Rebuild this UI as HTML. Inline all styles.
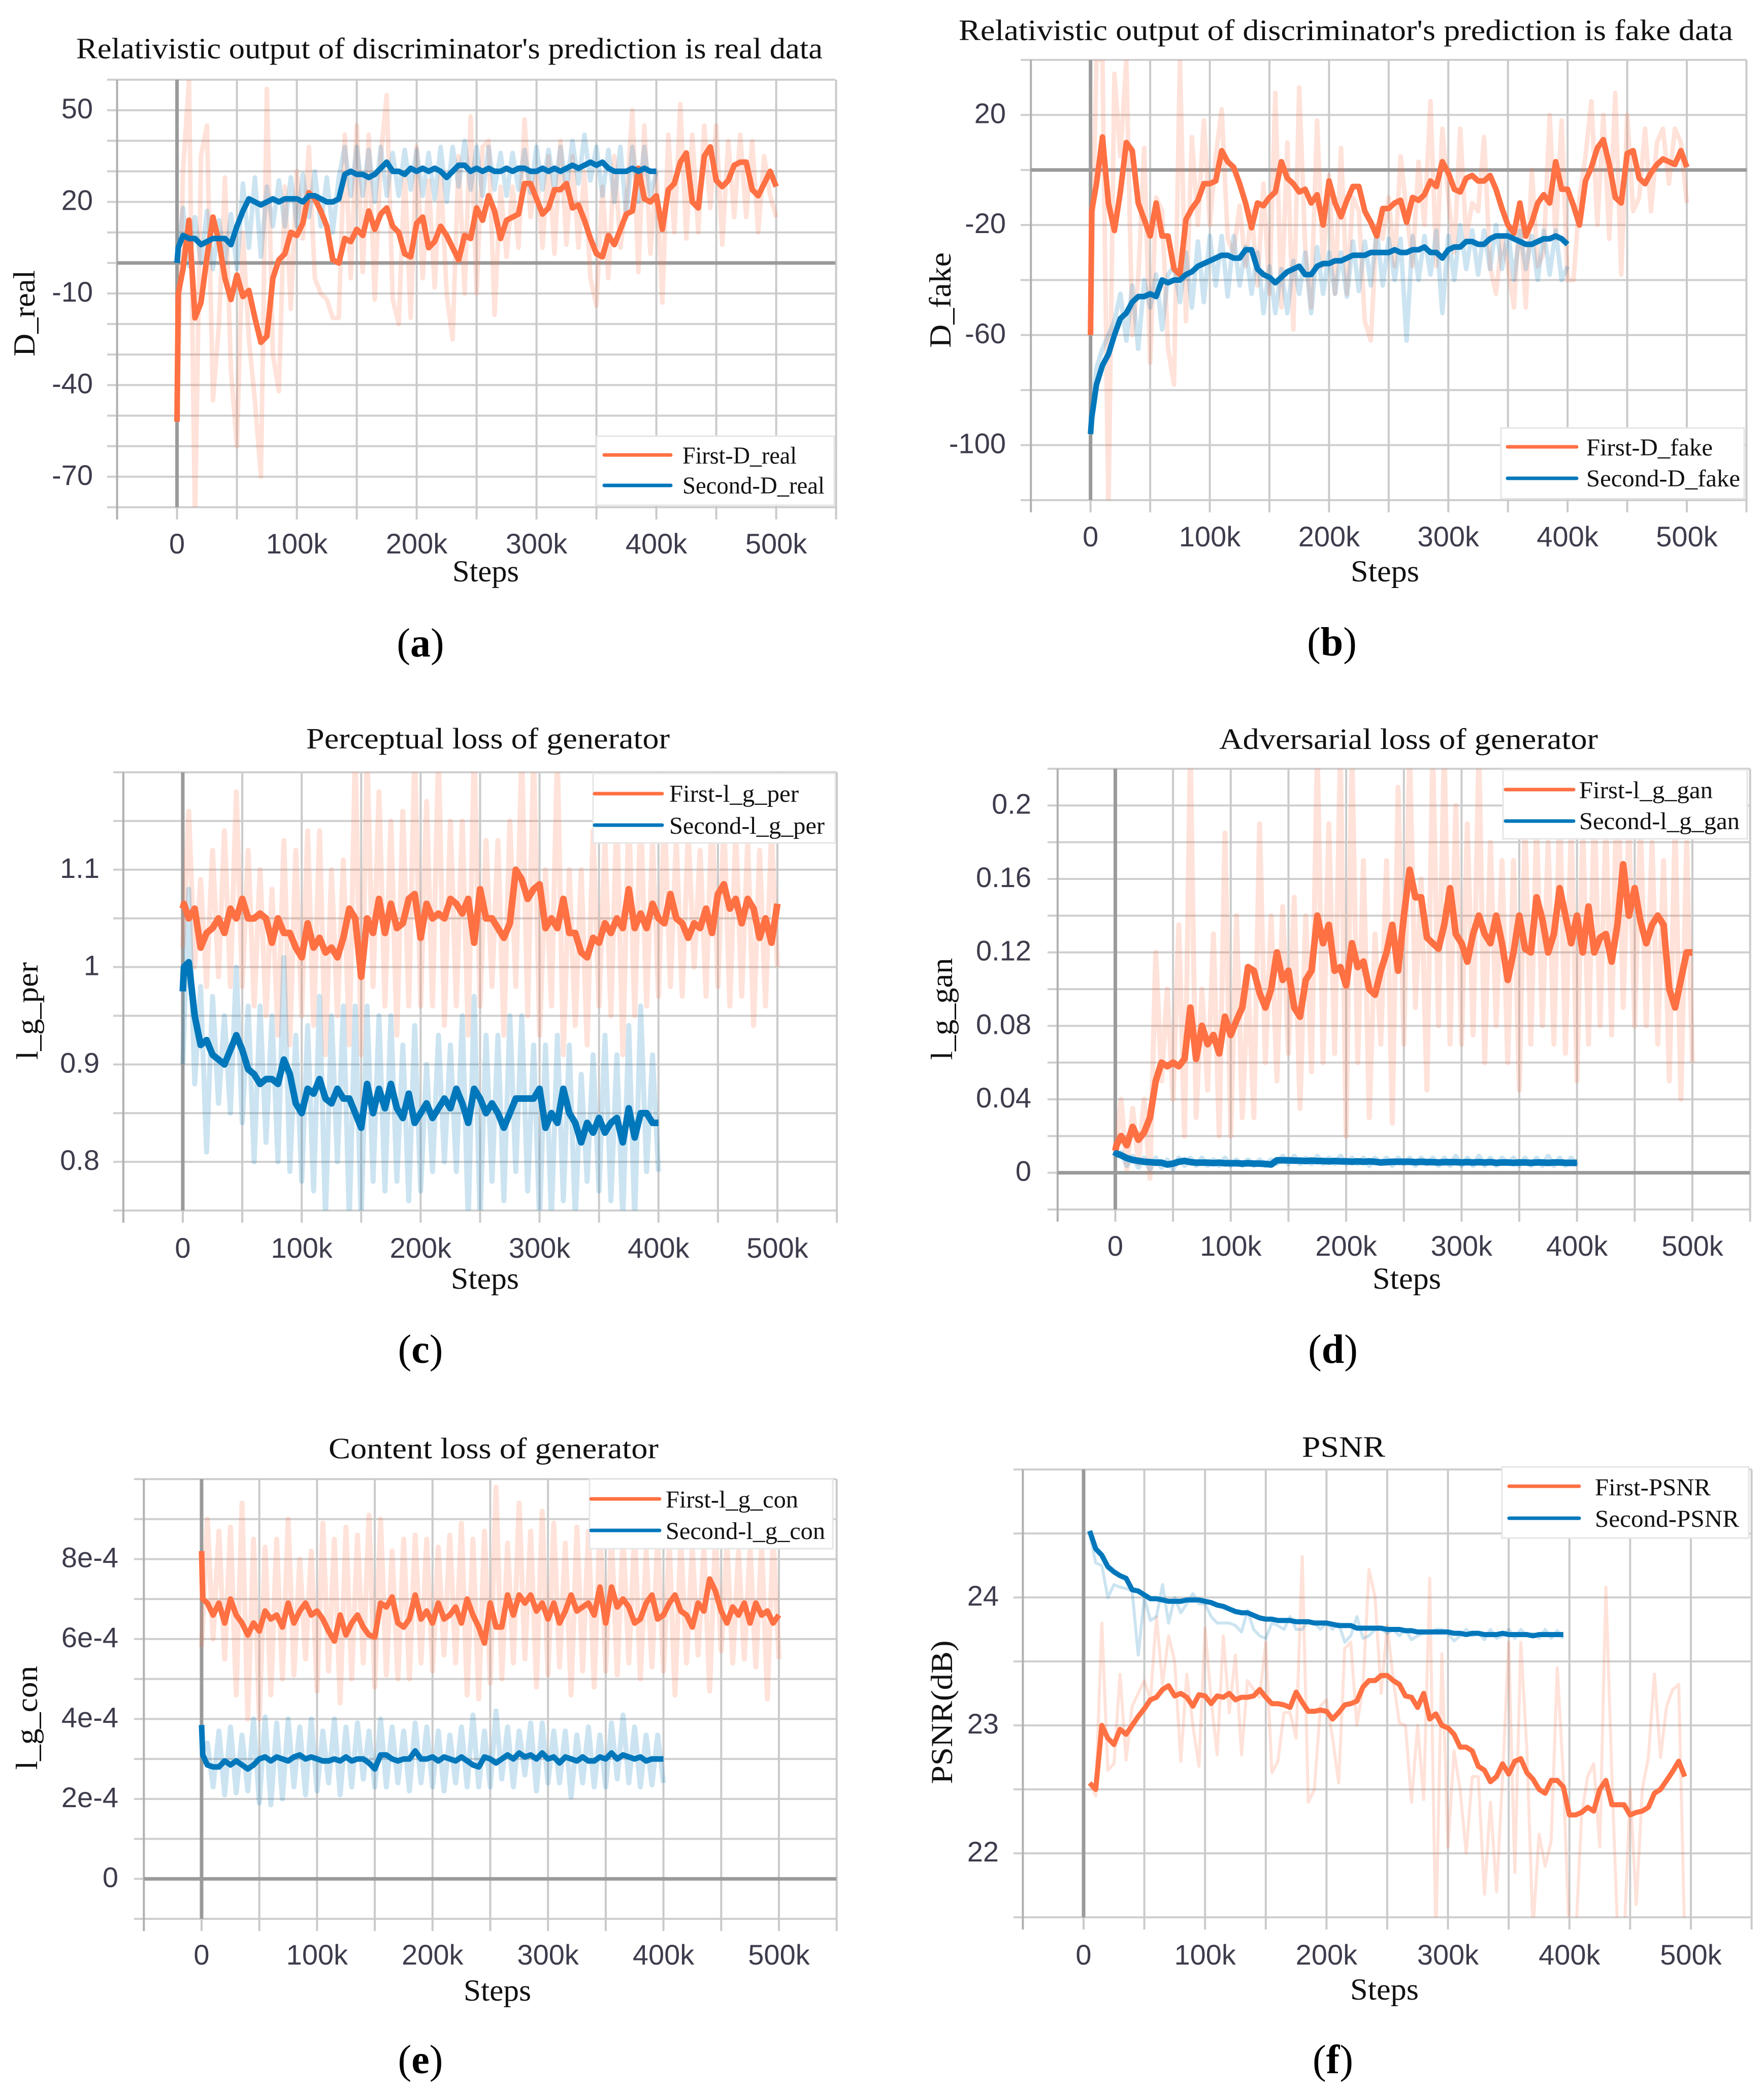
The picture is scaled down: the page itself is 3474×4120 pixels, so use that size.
<!DOCTYPE html>
<html lang="en">
<head>
<meta charset="utf-8">
<title>Training curves of the first and second stage models</title>
<style>
html,body{margin:0;padding:0;background:#fff}
svg{display:block}
</style>
</head>
<body>
<svg id="figure" xmlns="http://www.w3.org/2000/svg" width="3474" height="4120" viewBox="0 0 3474 4120"></svg>
<script>
const xTickLabels = ['0','100k','200k','300k','400k','500k'];
const xTickSteps = [0,100,200,300,400,500];

const aYTicks = [50,20,-10,-40,-70];
const aFirst = [-52,-10,
-2,14,-18,-13,2,15,7,-5,-12,-4,
-11,-9,-18,-26,-24,-5,1,3,10,9,
13,23,21,17,12,1,0,8,7,11,
9,17,11,16,18,12,10,3,2,13,
15,5,7,12,9,5,1,9,8,18,
14,22,17,8,14,15,16,26,26,21,
16,18,24,24,26,18,19,14,8,3,
2,9,6,11,16,17,31,21,20,22,
11,24,26,33,36,20,18,35,38,27,
25,27,32,33,33,24,22,26,30,25];
const aSecond = [0,5,
9,8,8,6,7,8,8,8,6,12,
17,21,20,19,20,21,20,21,21,21,
20,22,22,21,20,20,21,29,30,29,
29,28,29,31,33,30,30,29,31,30,
31,30,31,30,28,30,32,32,30,31,
30,31,30,30,31,30,31,31,30,30,
31,30,31,30,31,32,31,32,33,32,
33,31,30,30,30,31,30,31,30,30];
const aFirstRaw = [-52,
30,60,-85,35,45,-45,-20,28,-35,-60,
10,-25,-45,-70,57,-30,-42,25,-15,30,
8,38,-5,-10,-12,-18,-18,42,-5,45,
-3,42,-12,35,55,-12,-20,30,-18,38,
-5,27,-8,30,-10,-25,35,-10,48,-10,
38,40,-17,25,2,25,5,47,15,30,
5,35,3,40,6,35,5,30,-5,-14,
25,-5,35,5,20,50,-3,45,3,30,
-13,42,10,52,8,42,10,45,18,45,
6,40,15,42,15,40,10,35,22,15];
const aSecondRaw = [0,
18,-1,15,0,17,-2,14,0,16,-2,
26,5,28,2,25,12,27,12,28,12,
29,15,30,12,28,10,28,38,22,38,
22,37,20,38,22,36,22,37,24,37,
22,36,21,38,20,38,25,40,24,38,
22,38,24,36,22,36,24,37,23,38,
24,37,24,38,24,40,26,42,27,38,
22,37,20,38,15,38,20,38,22,30];

const bYTicks = [20,-20,-60,-100];
const bFirst = [-60,-15,
-5,12,-12,-22,-8,10,7,-12,-18,-24,
-12,-24,-24,-36,-38,-18,-14,-11,-5,-5,
-4,7,3,1,-5,-12,-21,-12,-13,-10,
-8,3,-3,-5,-8,-7,-12,-9,-20,-4,
-12,-17,-11,-6,-6,-15,-19,-24,-14,-14,
-12,-11,-19,-10,-11,-9,-4,-6,3,-1,
-7,-8,-3,-2,-4,-4,-2,-7,-14,-20,
-23,-12,-24,-19,-12,-9,-12,3,-7,-7,
-13,-20,-4,1,8,11,2,-10,-12,6,
7,-3,-5,-1,2,4,3,2,7,1];
const bSecond = [-96,-90,
-78,-71,-67,-60,-54,-52,-48,-46,-46,-45,
-46,-40,-41,-40,-40,-38,-37,-35,-34,-33,
-32,-31,-31,-32,-32,-29,-29,-36,-38,-39,
-41,-39,-37,-36,-35,-38,-38,-35,-34,-34,
-33,-33,-32,-31,-31,-31,-30,-30,-30,-30,
-29,-30,-30,-29,-29,-28,-30,-30,-32,-29,
-28,-28,-26,-26,-27,-27,-25,-24,-24,-24,
-25,-26,-27,-27,-26,-25,-25,-24,-25,-27];
const bFirstRaw = [-60,
40,40,-125,35,5,40,-60,-40,8,-70,
-10,-15,-65,-78,40,-55,12,-20,18,-20,
5,22,-25,-30,-13,-35,-15,-42,-5,-45,
28,-50,10,-58,30,-28,-50,18,-35,-2,
-45,8,-45,-10,-15,-55,-62,-20,-25,-10,
-35,5,-15,-35,3,-20,25,-35,15,-10,
-30,15,-25,-12,-15,12,-35,-45,-25,-35,
-50,-15,-50,0,-35,-30,20,-25,18,-40,
-40,-10,5,25,-20,20,-25,28,-38,20,
-15,-10,15,-15,10,15,-5,15,10,-12];
const bSecondRaw = [-96,
-72,-65,-60,-55,-45,-62,-42,-65,-40,-50,
-38,-58,-38,-35,-48,-30,-50,-26,-48,-24,
-42,-24,-46,-24,-42,-28,-45,-30,-52,-35,
-52,-36,-52,-33,-45,-30,-52,-28,-45,-30,
-45,-30,-46,-26,-44,-26,-42,-22,-42,-25,
-40,-25,-62,-24,-40,-24,-38,-22,-52,-24,
-40,-20,-36,-22,-38,-22,-36,-20,-36,-22,
-40,-22,-36,-24,-40,-22,-38,-22,-40,-35];

const cYTicks = [1.1,1,0.9,0.8];
const cFirst = [1.06,1.065,
1.05,1.06,1.02,1.035,1.04,1.05,1.035,1.06,1.05,1.07,
1.05,1.05,1.055,1.05,1.025,1.05,1.035,1.035,1.02,1.01,
1.045,1.02,1.03,1.015,1.02,1.01,1.03,1.06,1.05,0.99,
1.05,1.035,1.07,1.035,1.065,1.04,1.045,1.07,1.075,1.03,
1.065,1.05,1.055,1.05,1.07,1.065,1.055,1.07,1.025,1.08,
1.05,1.05,1.04,1.03,1.045,1.1,1.09,1.07,1.08,1.085,
1.04,1.05,1.04,1.07,1.035,1.035,1.015,1.01,1.03,1.025,
1.045,1.035,1.05,1.04,1.08,1.04,1.055,1.04,1.065,1.05,
1.045,1.075,1.05,1.045,1.03,1.045,1.04,1.06,1.035,1.075,
1.085,1.06,1.07,1.045,1.07,1.06,1.03,1.05,1.025,1.065];
const cSecond = [0.975,1.0,
1.005,0.95,0.92,0.925,0.91,0.905,0.9,0.915,0.93,0.915,
0.895,0.89,0.88,0.885,0.885,0.88,0.905,0.89,0.86,0.85,
0.875,0.87,0.885,0.865,0.86,0.875,0.865,0.865,0.85,0.835,
0.88,0.85,0.875,0.855,0.88,0.855,0.845,0.87,0.84,0.85,
0.86,0.845,0.855,0.865,0.855,0.875,0.86,0.84,0.875,0.865,
0.85,0.86,0.85,0.835,0.85,0.865,0.865,0.865,0.865,0.875,
0.835,0.85,0.84,0.875,0.85,0.84,0.82,0.84,0.83,0.845,
0.83,0.84,0.845,0.82,0.855,0.825,0.85,0.85,0.84,0.84];
const cFirstRaw = [1.02,
1.16,1.0,1.09,0.98,1.12,0.99,1.14,0.98,1.18,0.98,
1.12,0.96,1.1,0.95,1.08,0.93,1.13,0.92,1.12,0.95,
1.14,0.94,1.14,0.91,1.1,0.95,1.11,0.92,1.22,0.91,
1.22,0.98,1.18,0.96,1.15,0.93,1.16,0.96,1.22,0.96,
1.17,0.96,1.22,0.94,1.15,0.96,1.15,0.93,1.22,0.96,
1.13,0.98,1.13,0.93,1.15,0.98,1.22,0.95,1.22,0.93,
1.1,0.96,1.22,0.91,1.1,0.94,1.1,0.92,1.14,0.96,
1.13,0.95,1.16,0.91,1.16,0.95,1.16,0.96,1.13,0.97,
1.16,0.98,1.13,0.97,1.14,1.0,1.12,0.97,1.16,0.98,
1.15,0.96,1.14,0.97,1.13,0.94,1.12,0.96,1.14,1.0];
const cSecondRaw = [0.9,
1.08,0.88,0.98,0.81,0.97,0.86,0.95,0.85,1.0,0.84,
0.96,0.8,0.96,0.82,0.95,0.8,1.01,0.79,0.93,0.78,
0.94,0.77,0.97,0.74,0.95,0.8,0.96,0.74,0.96,0.74,
0.96,0.78,0.95,0.77,0.95,0.78,0.92,0.76,0.94,0.77,
0.9,0.79,0.93,0.8,0.92,0.79,0.95,0.74,0.97,0.74,
0.93,0.78,0.93,0.76,0.95,0.79,0.95,0.77,0.92,0.74,
0.92,0.74,0.93,0.76,0.92,0.74,0.89,0.78,0.91,0.77,
0.93,0.76,0.91,0.74,0.94,0.74,0.96,0.79,0.91,0.79];

const dYTicks = [0.2,0.16,0.12,0.08,0.04,0];
const dFirst = [0.012,0.015,
0.02,0.015,0.025,0.018,0.022,0.03,0.05,0.06,0.058,0.06,
0.058,0.062,0.09,0.062,0.08,0.07,0.075,0.065,0.085,0.075,
0.083,0.09,0.112,0.11,0.098,0.09,0.1,0.12,0.105,0.11,
0.09,0.085,0.105,0.11,0.14,0.125,0.135,0.11,0.112,0.102,
0.125,0.112,0.115,0.1,0.097,0.11,0.12,0.135,0.11,0.14,
0.165,0.15,0.15,0.128,0.125,0.122,0.135,0.155,0.13,0.125,
0.115,0.13,0.14,0.13,0.125,0.14,0.125,0.105,0.12,0.14,
0.122,0.12,0.15,0.138,0.12,0.13,0.155,0.14,0.125,0.14,
0.12,0.145,0.12,0.128,0.13,0.115,0.135,0.168,0.14,0.155,
0.137,0.125,0.135,0.14,0.135,0.1,0.09,0.105,0.12,0.12];
const dSecond = [0.009,0.0105,
0.0095,0.008,0.007,0.0065,0.006,0.0058,0.0055,0.0055,0.0045,0.005,
0.006,0.0065,0.0058,0.0055,0.0055,0.0055,0.0053,0.0055,0.0052,0.0052,
0.0052,0.005,0.0052,0.005,0.005,0.0048,0.0045,0.0068,0.0068,0.0068,
0.0066,0.0066,0.0064,0.0066,0.0064,0.0064,0.0062,0.0064,0.0062,0.0062,
0.006,0.0062,0.006,0.0062,0.006,0.0056,0.0058,0.006,0.006,0.006,
0.006,0.0058,0.006,0.0058,0.0058,0.0056,0.0058,0.0058,0.0058,0.0056,
0.0058,0.0056,0.0058,0.0056,0.0058,0.0054,0.0056,0.0056,0.0054,0.0056,
0.0056,0.0054,0.0056,0.0056,0.0054,0.0056,0.0056,0.0054,0.0054,0.0054];
const dFirstRaw = [0.01,
0.04,0.002,0.035,0.005,0.04,-0.003,0.12,0.05,0.1,0.04,
0.135,0.02,0.23,0.03,0.1,0.045,0.13,0.02,0.185,0.02,
0.14,0.03,0.105,0.03,0.19,0.06,0.14,0.05,0.145,0.065,
0.15,0.035,0.14,0.055,0.23,0.06,0.19,0.065,0.23,0.02,
0.23,0.06,0.17,0.03,0.13,0.07,0.17,0.027,0.21,0.07,
0.23,0.09,0.16,0.045,0.23,0.08,0.23,0.07,0.2,0.07,
0.19,0.075,0.23,0.06,0.18,0.08,0.17,0.06,0.17,0.045,
0.19,0.07,0.19,0.08,0.18,0.07,0.2,0.065,0.19,0.05,
0.19,0.07,0.2,0.08,0.19,0.075,0.23,0.09,0.19,0.08,
0.19,0.08,0.18,0.07,0.17,0.05,0.19,0.04,0.18,0.06];
const dSecondRaw = [0.009,
0.011,0.004,0.009,0.003,0.008,0.002,0.008,0.003,0.007,0.002,
0.008,0.004,0.008,0.004,0.008,0.004,0.007,0.004,0.008,0.004,
0.007,0.004,0.007,0.004,0.007,0.004,0.007,0.005,0.009,0.005,
0.009,0.005,0.008,0.005,0.009,0.005,0.008,0.005,0.009,0.005,
0.008,0.005,0.008,0.004,0.008,0.005,0.008,0.004,0.008,0.005,
0.008,0.004,0.008,0.005,0.008,0.004,0.008,0.004,0.009,0.004,
0.008,0.004,0.009,0.004,0.008,0.004,0.008,0.005,0.008,0.004,
0.008,0.004,0.008,0.004,0.009,0.004,0.008,0.004,0.008,0.004];

const eYTickValues = [8,6,4,2,0];
const eYTickLabels = ['8e-4','6e-4','4e-4','2e-4','0'];
const eFirst = [8.2,7,
6.9,6.6,6.9,6.4,7,6.6,6.4,6.1,6.4,6.2,
6.7,6.5,6.6,6.3,6.9,6.4,6.7,6.9,6.6,6.7,
6.5,6.2,5.95,6.6,6.1,6.4,6.6,6.3,6.1,6.05,
6.9,6.8,7.05,6.4,6.3,6.5,7.1,6.5,6.7,6.4,
6.9,6.5,6.6,6.8,6.4,7,6.6,6.3,5.9,6.9,
6.3,6.3,7.1,6.6,7.1,6.9,7.1,6.7,6.9,6.5,
6.9,6.4,6.7,7.1,6.7,6.8,6.9,6.6,7.3,6.4,
7.3,6.8,7,6.8,6.4,6.5,6.9,7.1,6.5,6.6,
6.9,7.1,6.7,6.6,6.3,6.9,6.7,7.5,7.2,6.7,
6.4,6.8,6.6,6.9,6.4,6.9,6.6,6.7,6.4,6.6];
const eSecond = [3.85,3.1,
2.85,2.8,2.8,2.95,2.85,2.95,2.85,2.75,2.85,3,
3.05,2.95,3.05,3,2.95,3.05,3.1,3,3.05,3,
2.95,2.95,3,2.95,3.05,2.95,3,3,2.9,2.75,
3.1,3.1,3,2.95,3,3,3.2,3,3,3.05,
2.95,3.05,3,2.95,3.05,2.95,2.85,2.8,3.05,3,
2.9,3,3.1,3,3.15,3.05,3.1,3,3.15,3,
3.05,2.9,3.05,3,2.95,3.05,2.95,2.95,3.05,3,
3.15,3,3.1,3.05,3,3.05,2.95,3,3,3];
const eFirstRaw = [5.8,
9,6,8.7,5.5,8.8,4.6,9.4,4,8.5,4,
8.3,4.6,8.5,5,9,5.1,8,5.5,8.2,4.7,
8.9,5.2,8.5,4.4,8.8,5,8.6,5.4,9.1,4.8,
9,5.1,8.2,5,8.5,5,8.6,5.4,8.5,5.2,
8.3,5.6,8.6,5.4,8.9,4.6,8.5,4.5,8.7,4.9,
9.8,5,8.4,5.4,9.4,5.5,8.7,4.8,9.2,5.1,
8.9,5.3,8.4,4.6,8.8,5.2,8.7,4.8,8.9,5.2,
8.6,5.1,8.6,5.4,8.7,5,8.2,5.3,8.5,5.2,
8.4,4.6,8.5,5.4,8.3,5.6,8.3,4.7,8.6,5.7,
8.4,5.4,8.2,5.5,8.3,5.3,8.4,4.5,8.6,5.5];
const eSecondRaw = [3.2,
3.4,2.3,3.7,2.1,3.8,2.15,3.6,2.2,4,1.9,
4.05,1.85,3.9,2,4,2.3,3.8,2.1,4,2.2,
3.7,2.4,4,2.1,3.8,2.3,3.9,2.5,3.7,2.3,
4,2.3,3.8,2.4,3.7,2.2,3.9,2.4,3.8,2.3,
3.7,2.2,3.6,2.4,3.8,2.3,4.1,2.3,3.7,2.3,
4.2,2.5,3.8,2.3,3.7,2.6,3.9,2.2,3.9,2.4,
3.7,2.4,3.7,2.05,3.6,2.4,3.8,2.3,3.6,2.3,
3.9,2.5,4.1,2.4,3.8,2.3,3.6,2.35,3.6,2.4];

const fYTicks = [24,23,22];
const fFirst = [22.55,22.5,23.0,22.9,22.85,22.97,22.93,23,23.07,23.13,
23.2,23.22,23.28,23.31,23.23,23.25,23.22,23.15,23.24,23.23,
23.17,23.23,23.22,23.25,23.2,23.22,23.22,23.23,23.28,23.22,
23.17,23.17,23.16,23.14,23.26,23.18,23.11,23.11,23.12,23.11,
23.05,23.1,23.16,23.17,23.19,23.3,23.35,23.35,23.39,23.39,
23.35,23.32,23.23,23.22,23.14,23.25,23.05,23.09,23,22.98,
22.93,22.83,22.83,22.8,22.68,22.65,22.56,22.6,22.7,22.62,
22.72,22.74,22.63,22.58,22.5,22.47,22.57,22.57,22.52,22.3,
22.3,22.32,22.36,22.33,22.5,22.57,22.38,22.38,22.38,22.3,
22.32,22.33,22.36,22.47,22.5,22.57,22.64,22.72,22.6];
const fSecond = [24.52,24.38,24.33,24.24,24.2,24.17,24.15,24.06,24.05,24.02,
23.99,23.99,23.98,23.97,23.97,23.97,23.98,23.98,23.98,23.97,
23.96,23.94,23.93,23.91,23.89,23.88,23.88,23.86,23.84,23.83,
23.83,23.82,23.82,23.82,23.81,23.81,23.81,23.8,23.8,23.8,
23.79,23.78,23.78,23.78,23.76,23.76,23.76,23.76,23.76,23.75,
23.75,23.75,23.74,23.74,23.73,23.73,23.73,23.73,23.73,23.73,
23.72,23.72,23.71,23.72,23.72,23.71,23.71,23.71,23.72,23.71,
23.71,23.71,23.71,23.7,23.71,23.71,23.71,23.71,23.71];
const fFirstRaw = [22.55,22.45,23.8,22.65,22.7,23.4,22.73,23.15,23.25,23.35,
23.2,23.85,23.32,23.7,23.5,22.72,23.4,23,22.68,23.76,
23.2,22.77,23.7,23.1,23.55,22.77,23.35,23.28,23.22,23.65,
22.63,22.72,23.1,23.1,22.9,24.32,22.4,22.5,23.15,23.2,
22.9,22.55,23.6,23.65,23,23.3,24.22,24,23.25,23.78,
23.35,23.02,23,22.4,23,22.42,24.15,21.3,23.56,22.05,
22.8,22.5,22,22.6,22.6,21.68,22.4,21.7,22.6,23.65,
21.85,23.65,22.8,21.4,22.15,21.9,22.1,23.45,22.6,21.3,
21.3,22.3,22.6,22.7,22.05,24.08,22.6,21.3,21.3,22.5,
21.6,22.5,22.75,23.4,22.75,23.15,23.28,23.32,21.3];
const fSecondRaw = [24.5,24.27,24.25,24.0,24.1,24.08,24.07,24.05,23.55,24.0,
23.82,23.85,24.1,23.8,24.0,23.88,23.95,24.03,23.95,23.95,
23.85,23.8,23.8,23.8,23.78,23.73,23.9,23.75,23.7,23.68,
23.8,23.78,23.75,23.85,23.75,23.75,23.82,23.8,23.75,23.8,
23.75,23.8,23.65,23.7,23.85,23.68,23.7,23.75,23.75,23.72,
23.75,23.7,23.75,23.67,23.7,23.72,23.72,23.75,23.75,23.72,
23.66,23.7,23.75,23.7,23.72,23.67,23.75,23.68,23.7,23.75,
23.68,23.75,23.7,23.72,23.68,23.75,23.68,23.74,23.68];

const ORANGE = '#ff7043';
const BLUE = '#0077bb';
const SVGNS = 'http://www.w3.org/2000/svg';
const figure = document.getElementById('figure');

function mk(parent, tag, attrs, text) {
  const el = document.createElementNS(SVGNS, tag);
  for (const k in attrs) el.setAttribute(k, attrs[k]);
  if (text !== undefined) el.textContent = text;
  parent.appendChild(el);
  return el;
}

const panels = [
 {id:'a', title:'Relativistic output of discriminator\'s prediction is real data', tx:[150,1620], tb:115,
  l:231, x0:348.6, x500:1528.6, r:1645, t:157, b:999, yTop:60, yBot:-80, yGrid:10, axisY:0,
  ticks:aYTicks, tickLabels:aYTicks.map(String), tickR:183, xLabB:1090,
  yTitle:'D_real', yb:68, yc:617, yLen:170,
  steps:[891,1022,1145], cap:['a',828,1293], rawW:9, smoothW:11,
  first:aFirst, second:aSecond, firstRaw:aFirstRaw, secondRaw:aSecondRaw, head:true, start:0,
  leg:{x:1175,y:859,w:468,h:136,lx:1190,lx2:1321,ly1:896,ly2:956,tx:1344,b1:913,b2:972,w1:225,w2:280,n1:'First-D_real',n2:'Second-D_real'}},
 {id:'b', title:'Relativistic output of discriminator\'s prediction is fake data', tx:[1888,3413], tb:79,
  l:2030, x0:2147.7, x500:3322, r:3440, t:118, b:985, yTop:40, yBot:-120, yGrid:20, axisY:0,
  ticks:bYTicks, tickLabels:bYTicks.map(String), tickR:1981, xLabB:1076,
  yTitle:'D_fake', yb:1872, yc:591, yLen:188,
  steps:[2660,2795,1145], cap:['b',2623,1291], rawW:9, smoothW:11,
  first:bFirst, second:bSecond, firstRaw:bFirstRaw, secondRaw:bSecondRaw, head:true, start:0,
  leg:{x:2956,y:843,w:479,h:139,lx:2969,lx2:3105,ly1:880,ly2:942,tx:3124,b1:897,b2:958,w1:249,w2:303,n1:'First-D_fake',n2:'Second-D_fake'}},
 {id:'c', title:'Perceptual loss of generator', tx:[603,1319], tb:1474,
  l:243, x0:360, x500:1531, r:1648, t:1521, b:2384, yTop:1.2, yBot:0.75, yGrid:0.05, axisY:null,
  ticks:cYTicks, tickLabels:cYTicks.map(String), tickR:196, xLabB:2477,
  yTitle:'l_g_per', yb:74, yc:1991, yLen:192,
  steps:[888,1022,2538], cap:['c',828,2684], rawW:10, smoothW:13,
  first:cFirst, second:cSecond, firstRaw:cFirstRaw, secondRaw:cSecondRaw, head:true, start:0,
  leg:{x:1168,y:1523,w:477,h:137,lx:1171,lx2:1304,ly1:1563,ly2:1625,tx:1318,b1:1579,b2:1642,w1:255,w2:306,n1:'First-l_g_per',n2:'Second-l_g_per'}},
 {id:'d', title:'Adversarial loss of generator', tx:[2401,3147], tb:1475,
  l:2083, x0:2196.5, x500:3333, r:3446, t:1514, b:2382, yTop:0.22, yBot:-0.02, yGrid:0.02, axisY:0,
  ticks:dYTicks, tickLabels:dYTicks.map(String), tickR:2031, xLabB:2473,
  yTitle:'l_g_gan', yb:1875, yc:1987, yLen:201,
  steps:[2703,2838,2538], cap:['d',2625,2684], rawW:10, smoothW:13,
  first:dFirst, second:dSecond, firstRaw:dFirstRaw, secondRaw:dSecondRaw, head:true, start:0,
  leg:{x:2960,y:1516,w:481,h:136,lx:2965,lx2:3099,ly1:1555,ly2:1617,tx:3110,b1:1572,b2:1633,w1:263,w2:316,n1:'First-l_g_gan',n2:'Second-l_g_gan'}},
 {id:'e', title:'Content loss of generator', tx:[647,1297], tb:2872,
  l:284, x0:397, x500:1534, r:1647, t:2913, b:3779, yTop:10, yBot:-1, yGrid:1, axisY:0,
  ticks:eYTickValues, tickLabels:eYTickLabels, tickR:233, xLabB:3869,
  yTitle:'l_g_con', yb:73, yc:3383, yLen:205,
  steps:[913,1046,3940], cap:['e',828,4083], rawW:10, smoothW:11,
  first:eFirst, second:eSecond, firstRaw:eFirstRaw, secondRaw:eSecondRaw, head:true, start:0,
  leg:{x:1161,y:2913,w:479,h:137,lx:1164,lx2:1299,ly1:2952,ly2:3014,tx:1311,b1:2969,b2:3031,w1:261,w2:314,n1:'First-l_g_con',n2:'Second-l_g_con'}},
 {id:'f', title:'PSNR', tx:[2564,2728], tb:2869,
  l:2016, x0:2134, x500:3330, r:3450, t:2894, b:3776, yTop:25, yBot:21.5, yGrid:0.5, axisY:null,
  ticks:fYTicks, tickLabels:fYTicks.map(String), tickR:1967, xLabB:3869,
  yTitle:'PSNR(dB)', yb:1875, yc:3372, yLen:283,
  steps:[2659,2794,3938], cap:['f',2625,4083], rawW:6, smoothW:10,
  first:fFirst, second:fSecond, firstRaw:fFirstRaw, secondRaw:fSecondRaw, head:false, start:5,
  leg:{x:2958,y:2889,w:486,h:140,lx:2972,lx2:3110,ly1:2927,ly2:2990,tx:3141,b1:2945,b2:3007,w1:228,w2:284,n1:'First-PSNR',n2:'Second-PSNR'}}
];

function drawSeries(g, p, values, color, width, opacity, head, clipId, xs) {
  const pts = values.map(function (v, i) {
    const k = head ? (i === 0 ? 0 : i === 1 ? 1 : (i - 1) * 5) : p.start + i * 5;
    return xs.x(k).toFixed(1) + ',' + xs.y(v).toFixed(1);
  }).join(' ');
  return mk(g, 'polyline', {points: pts, fill: 'none', stroke: color, 'stroke-width': width,
    'stroke-opacity': opacity, 'stroke-linejoin': 'round', 'clip-path': 'url(#' + clipId + ')'});
}

panels.forEach(function (p) {
  const xScale = function (k) { return p.x0 + (k / 500) * (p.x500 - p.x0); };
  const yScale = function (v) { return p.t + (p.yTop - v) / (p.yTop - p.yBot) * (p.b - p.t); };
  const scales = {x: xScale, y: yScale};
  const g = mk(figure, 'g', {});
  
  

  const defs = mk(g, 'defs', {});
  const clip = mk(defs, 'clipPath', {id: 'clip-' + p.id});
  mk(clip, 'rect', {x: p.l, y: p.t, width: p.r - p.l, height: p.b - p.t});

  const title = mk(g, 'text', {x: p.tx[0], y: p.tb, 'font-family': '"Liberation Serif", serif', 'font-size': 58,
    fill: '#111', textLength: p.tx[1] - p.tx[0], lengthAdjust: 'spacingAndGlyphs'}, p.title);
  
  

  const grid = mk(g, 'g', {});
  
  
  const nY = Math.round((p.yTop - p.yBot) / p.yGrid);
  for (let i = 0; i <= nY; i++) {
    const y = p.t + i * (p.b - p.t) / nY;
    mk(grid, 'line', {x1: p.l - 20, x2: p.r, y1: y, y2: y, stroke: '#cfcfcf', 'stroke-width': 4});
  }
  for (let k = -50; k <= 550; k += 50) {
    const x = xScale(k);
    mk(grid, 'line', {x1: x, x2: x, y1: p.t, y2: p.b + 24, stroke: k === -50 ? '#b0b0b0' : '#cacaca', 'stroke-width': 4});
  }
  mk(grid, 'line', {x1: xScale(0), x2: xScale(0), y1: p.t, y2: p.b, stroke: '#9a9a9a', 'stroke-width': 7});
  if (p.axisY !== null) {
    mk(grid, 'line', {x1: p.l, x2: p.r, y1: yScale(p.axisY), y2: yScale(p.axisY), stroke: '#9a9a9a', 'stroke-width': 7});
  }

  const r1 = drawSeries(g, p, p.firstRaw, ORANGE, p.rawW, 0.2, false, 'clip-' + p.id, scales);
  
  
  const r2 = drawSeries(g, p, p.secondRaw, BLUE, p.rawW, 0.2, false, 'clip-' + p.id, scales);
  
  
  const s1 = drawSeries(g, p, p.first, ORANGE, p.smoothW, 1, p.head, 'clip-' + p.id, scales);
  
  
  const s2 = drawSeries(g, p, p.second, BLUE, p.smoothW, 1, p.head, 'clip-' + p.id, scales);
  
  

  p.ticks.forEach(function (v, i) {
    const t = mk(g, 'text', {x: p.tickR, y: yScale(v) + 16, 'text-anchor': 'end',
      'font-family': '"Liberation Sans", sans-serif', 'font-size': 56, fill: '#3c3c4c'}, p.tickLabels[i]);
    
    
  });
  xTickSteps.forEach(function (k, i) {
    const t = mk(g, 'text', {x: xScale(k), y: p.xLabB, 'text-anchor': 'middle',
      'font-family': '"Liberation Sans", sans-serif', 'font-size': 56, fill: '#3c3c4c'}, xTickLabels[i]);
    
    
  });

  const xt = mk(g, 'text', {x: p.steps[0], y: p.steps[2], 'font-family': '"Liberation Serif", serif', 'font-size': 60,
    fill: '#111', textLength: p.steps[1] - p.steps[0], lengthAdjust: 'spacingAndGlyphs'}, 'Steps');
  
  

  const yt = mk(g, 'text', {transform: 'translate(' + p.yb + ',' + p.yc + ') rotate(-90)', 'text-anchor': 'middle',
    'font-family': '"Liberation Serif", serif', 'font-size': 60, fill: '#111',
    textLength: p.yLen, lengthAdjust: 'spacingAndGlyphs'}, p.yTitle);
  
  

  const L = p.leg;
  const lg = mk(g, 'g', {});
  
  
  mk(lg, 'rect', {x: L.x, y: L.y, width: L.w, height: L.h, fill: '#fff', stroke: '#e6e6e6', 'stroke-width': 3});
  [[L.ly1, L.b1, L.w1, L.n1, ORANGE], [L.ly2, L.b2, L.w2, L.n2, BLUE]].forEach(function (e) {
    const entry = mk(lg, 'g', {});
    
    
    mk(entry, 'line', {x1: L.lx, x2: L.lx2, y1: e[0], y2: e[0], stroke: e[4], 'stroke-width': 7, 'stroke-linecap': 'round'});
    mk(entry, 'text', {x: L.tx, y: e[1], 'font-family': '"Liberation Serif", serif', 'font-size': 48, fill: '#111',
      textLength: e[2], lengthAdjust: 'spacingAndGlyphs'}, e[3]);
  });

  const cap = mk(g, 'text', {x: p.cap[1], y: p.cap[2], 'text-anchor': 'middle',
    'font-family': '"Liberation Serif", serif', 'font-size': 80, fill: '#000'});
  
  
  mk(cap, 'tspan', {}, '(');
  mk(cap, 'tspan', {'font-weight': 'bold'}, p.cap[0]);
  mk(cap, 'tspan', {}, ')');
});
</script>
</body>
</html>
